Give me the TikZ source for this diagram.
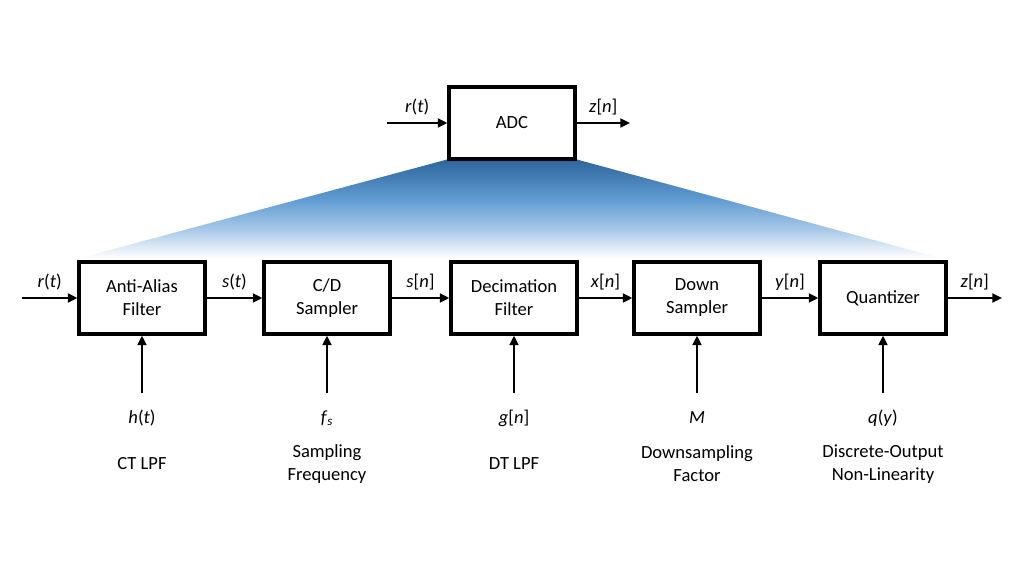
\documentclass[tikz,border=0pt]{standalone}
\usepackage{fontspec}
\setmainfont{Carlito}
\usetikzlibrary{arrows.meta}
\definecolor{adcblue}{RGB}{45,100,155}
\definecolor{midblue}{RGB}{95,155,210}
\definecolor{paleblue}{RGB}{165,198,232}
\pgfdeclareverticalshading{adcfade}{100bp}{color(0bp)=(white); color(25bp)=(white); color(40bp)=(paleblue); color(55bp)=(midblue); color(75bp)=(adcblue); color(100bp)=(adcblue)}
\begin{document}
\begin{tikzpicture}[x=0.025cm, y=-0.025cm,
	block/.style={rectangle, draw=black, line width=2.2pt, minimum width=3.15cm, minimum height=1.8cm, inner sep=0pt, align=center, font=\fontsize{13.2}{16.4}\selectfont},
	sig/.style={-{Triangle[length=2.4mm, width=2.2mm]}, line width=2pt},
	lab/.style={align=center, font=\fontsize{13.2}{16.4}\selectfont}]
		\useasboundingbox (0,0) rectangle (1024,576);
		\shade[shading=adcfade] (449,159) -- (575,159) -- (940,258) -- (80,258) -- cycle;
		\node[block](adc) at (512,123){ADC};
		\node[block](one) at (142,298){Anti-Alias\\Filter};
		\node[block](two) at (327,298){C/D\\Sampler};
		\node[block](three) at (514,298){Decimation\\Filter};
		\node[block](four) at (697,298){Down\\Sampler};
		\node[block](five) at (883,298){Quantizer};
		\coordinate(adcin) at (387,123);
		\coordinate(adcout) at (630,123);
		\coordinate(rowin) at (22,298);
		\coordinate(rowout) at (1002,298);
		\coordinate(cone) at (142,393);
		\coordinate(ctwo) at (327,393);
		\coordinate(cthree) at (514,393);
		\coordinate(cfour) at (697,393);
		\coordinate(cfive) at (883,393);
		\draw [sig] (adcin) -- node[lab, above=1pt, midway]{\textit{r}(\textit{t})}(adc.west);
		\draw [sig] (adc.east) -- node[lab, above=1pt, midway]{\textit{z}[\textit{n}]}(adcout);
		\draw [sig] (rowin) -- node[lab, above=1pt, midway]{\textit{r}(\textit{t})}(one.west);
		\draw [sig] (one.east) -- node[lab, above=1pt, midway]{\textit{s}(\textit{t})}(two.west);
		\draw [sig] (two.east) -- node[lab, above=1pt, midway]{\textit{s}[\textit{n}]}(three.west);
		\draw [sig] (three.east) -- node[lab, above=1pt, midway]{\textit{x}[\textit{n}]}(four.west);
		\draw [sig] (four.east) -- node[lab, above=1pt, midway]{\textit{y}[\textit{n}]}(five.west);
		\draw [sig] (five.east) -- node[lab, above=1pt, midway]{\textit{z}[\textit{n}]}(rowout);
		\draw [sig] (cone) -- (one.south);
		\draw [sig] (ctwo) -- (two.south);
		\draw [sig] (cthree) -- (three.south);
		\draw [sig] (cfour) -- (four.south);
		\draw [sig] (cfive) -- (five.south);
		\node[lab](hone) at (142,418){\textit{h}(\textit{t})};
		\node[lab](htwo) at (327,418){\textit{f}\textsubscript{\textit{s}}};
		\node[lab](hthree) at (514,418){\textit{g}[\textit{n}]};
		\node[lab](hfour) at (697,418){\textit{M}};
		\node[lab](hfive) at (883,418){\textit{q}(\textit{y})};
		\node[lab](done) at (142,464){CT LPF};
		\node[lab](dtwo) at (327,464){Sampling\\Frequency};
		\node[lab](dthree) at (514,464){DT LPF};
		\node[lab](dfour) at (697,464){Downsampling\\Factor};
		\node[lab](dfive) at (883,464){Discrete-Output\\Non-Linearity};
	\end{tikzpicture}
\end{document}
